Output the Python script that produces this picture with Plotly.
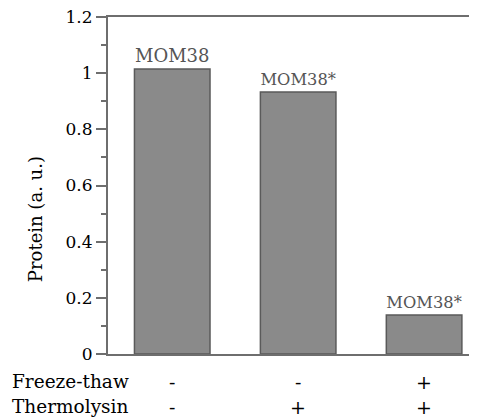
import plotly.graph_objects as go

positions = [0, 1, 2]
protein = [1.015, 0.933, 0.139]
bar_labels = ["MOM38", "MOM38*", "MOM38*"]
freeze_thaw = ["-", "-", "+"]
thermolysin = ["-", "+", "+"]
row_names = ["Freeze-thaw", "Thermolysin"]
y_ticks = [0, 0.2, 0.4, 0.6, 0.8, 1.0, 1.2]
y_ticktext = ["0", "0.2", "0.4", "0.6", "0.8", "1", "1.2"]

SERIF = "DejaVu Serif"
AX = "#6e6e6e"

fig = go.Figure()
fig.add_trace(go.Bar(
    x=positions, y=protein, width=0.6,
    text=bar_labels, textposition="outside",
    textfont=dict(family=SERIF, size=18, color="#555555"),
    marker=dict(color="#8a8a8a", line=dict(color="#5a5a5a", width=1.5)),
    cliponaxis=False, hoverinfo="skip",
))

annotations = []
for name, yp in zip(row_names, [-0.083, -0.157]):
    annotations.append(dict(text=name, xref="paper", yref="paper", x=-0.266, y=yp,
                            xanchor="left", yanchor="middle", showarrow=False,
                            font=dict(family=SERIF, size=18.5, color="black")))
for row, yp in zip([freeze_thaw, thermolysin], [-0.083, -0.157]):
    for xv, s in zip(positions, row):
        annotations.append(dict(text=s, xref="x", yref="paper", x=xv, y=yp,
                                xanchor="center", yanchor="middle", showarrow=False,
                                font=dict(family=SERIF, size=19, color="black")))
annotations.append(dict(text="Protein (a. u.)", xref="paper", yref="paper", x=-0.198, y=0.40,
                        textangle=-90, xanchor="center", yanchor="middle", showarrow=False,
                        font=dict(family=SERIF, size=18, color="black")))

fig.update_layout(
    width=469, height=410,
    margin=dict(l=100, r=0, t=9, b=64),
    paper_bgcolor="white", plot_bgcolor="white",
    showlegend=False,
    annotations=annotations,
    xaxis=dict(range=[-0.51, 2.42], showticklabels=False, ticks="", showgrid=False,
               zeroline=False, showline=True, mirror=True, linecolor=AX, linewidth=2),
    yaxis=dict(range=[0, 1.2], tickvals=y_ticks, ticktext=y_ticktext, showgrid=False,
               zeroline=False, showline=True, linecolor=AX, linewidth=2,
               ticks="outside", ticklen=10, tickwidth=2, tickcolor=AX,
               ticklabeloverflow="allow",
               minor=dict(dtick=0.1, ticks="outside", ticklen=5, tickwidth=2, tickcolor=AX),
               tickfont=dict(family=SERIF, size=17, color="black")),
)

fig.write_html("out.html")
